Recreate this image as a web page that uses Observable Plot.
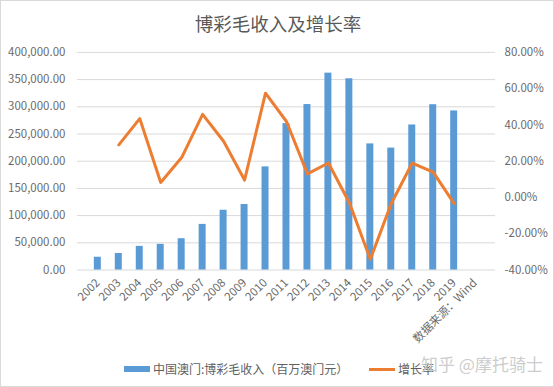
<!DOCTYPE html>
<html><head><meta charset="utf-8">
<script src="https://cdn.jsdelivr.net/npm/d3@7"></script>
<script src="https://cdn.jsdelivr.net/npm/@observablehq/plot@0.6"></script>
<style>
body{margin:0;background:#fff;}
#wrap{position:relative;width:554px;height:387px;box-sizing:border-box;border:1px solid #d9d9d9;font-family:"Noto Sans CJK SC","Liberation Sans",sans-serif;color:#595959;overflow:hidden;}
#chart{position:absolute;left:-1px;top:-1px;}
.title{position:absolute;left:0;width:554px;top:9px;text-align:center;font-size:18.5px;color:#595959;}
.leg{position:absolute;top:359px;font-size:12px;color:#606060;white-space:nowrap;}
.sw{position:absolute;}
.wm{position:absolute;left:420px;top:350px;font-size:17px;color:rgba(195,195,195,0.85);white-space:nowrap;}
</style></head>
<body>
<div id="wrap">
  <div id="chart"></div>
  <div class="title">博彩毛收入及增长率</div>
  <div class="sw" style="left:123px;top:365px;width:26px;height:6px;background:#5B9BD5"></div>
  <div class="leg" style="left:152px">中国澳门:博彩毛收入（百万澳门元）</div>
  <div class="sw" style="left:368px;top:367px;width:26px;height:3px;background:#ED7D31"></div>
  <div class="leg" style="left:397px">增长率</div>
  <div class="wm">知乎 @摩托骑士</div>
</div>
<script>
const years = ["2002","2003","2004","2005","2006","2007","2008","2009","2010","2011","2012","2013","2014","2015","2016","2017","2018","2019"];
const sourceLabel = "数据来源：Wind";
const revenue = [23496,30315,43511,47134,57521,83847,109826,120383,189588,269058,304139,361866,351521,231811,224128,266607,303879,292455];
const growth = [null,29.0,43.5,8.3,22.0,45.8,31.0,9.6,57.5,41.9,13.0,19.0,-2.9,-34.1,-3.3,19.0,14.0,-3.4];
const leftTicks = [0,50000,100000,150000,200000,250000,300000,350000,400000];
const rightTicks = [-40,-20,0,20,40,60,80];

const leftMax = 400000, rMin = -40, rMax = 80;
const toLeft = p => (p - rMin) / (rMax - rMin) * leftMax;
const fromLeft = v => Math.round((v / leftMax * (rMax - rMin) + rMin) * 100) / 100;

const bars = years.map((y,i)=>({year:y, value:revenue[i]}));
const line = years.map((y,i)=>({year:y, g:growth[i]})).filter(d=>d.g!==null).map(d=>({year:d.year, v:toLeft(d.g)}));

const chart = Plot.plot({
  width:554, height:387,
  marginTop:52, marginBottom:117, marginLeft:77, marginRight:58,
  style:{fontFamily:'"Noto Sans CJK SC","Liberation Sans",sans-serif', fontSize:"11px", color:"#6a6a6a", background:"transparent"},
  x:{type:"band", domain:[...years, sourceLabel], padding:0.68, align:0.5},
  y:{domain:[0,leftMax]},
  marks:[
    Plot.gridY(leftTicks, {stroke:"#d9d9d9", strokeOpacity:1}),
    Plot.barY(bars, {x:"year", y:"value", fill:"#5B9BD5"}),
    Plot.line(line, {x:"year", y:"v", stroke:"#ED7D31", strokeWidth:3, strokeLinejoin:"round", strokeLinecap:"round"}),
    Plot.axisY({ticks:leftTicks, tickSize:0, tickPadding:12, tickFormat:d3.format(",.2f"), label:null, anchor:"left", fill:"#6a6a6a", fontSize:11.5}),
    Plot.axisY({ticks:rightTicks.map(toLeft), tickSize:0, tickPadding:9, tickFormat:d=>fromLeft(d).toFixed(2)+"%", label:null, anchor:"right", fill:"#6a6a6a", fontSize:11.5}),
    Plot.axisX({tickSize:0, tickPadding:11, tickRotate:-45, label:null, fill:"#6a6a6a", fontSize:11.5})
  ]
});
document.getElementById("chart").appendChild(chart);
</script>
</body></html>
